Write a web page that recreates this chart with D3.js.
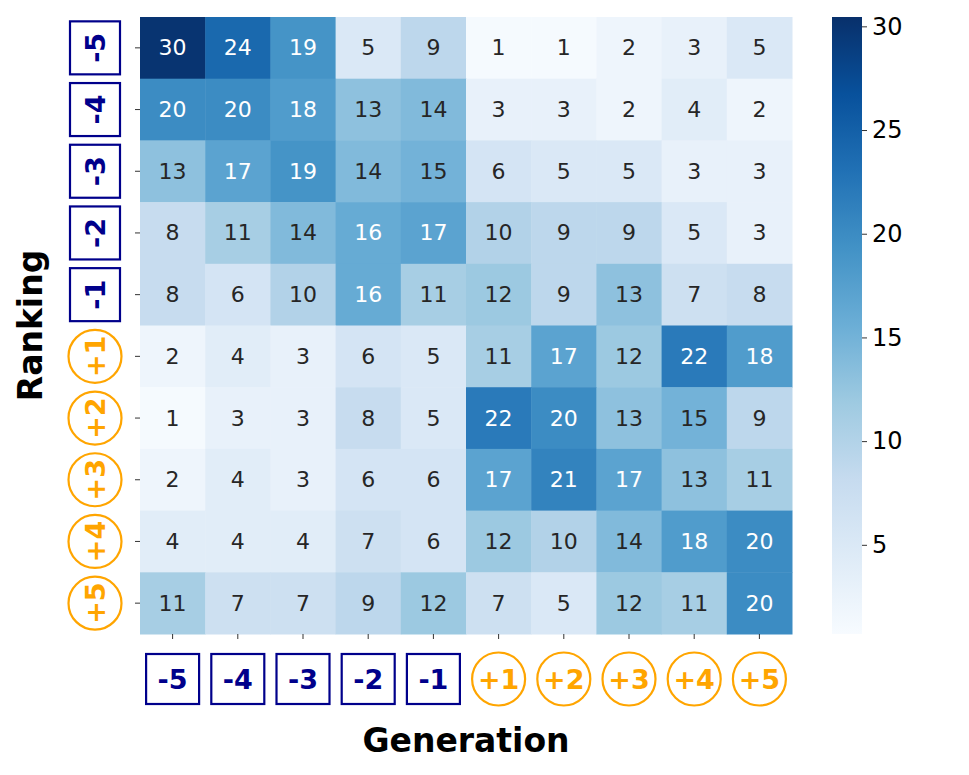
<!DOCTYPE html>
<html>
<head>
<meta charset="utf-8">
<script src="https://cdn.jsdelivr.net/npm/d3@7"></script>
<style>
  body { margin: 0; background: #fff; }
  svg { font-family: "DejaVu Sans", sans-serif; }
</style>
</head>
<body>
<div id="chart"></div>
<script>
// rows = Ranking, columns = Generation
const rankings = ['-5', '-4', '-3', '-2', '-1', '+1', '+2', '+3', '+4', '+5']
const generations = ['-5', '-4', '-3', '-2', '-1', '+1', '+2', '+3', '+4', '+5']
const counts = [
    [30, 24, 19, 5, 9, 1, 1, 2, 3, 5],
    [20, 20, 18, 13, 14, 3, 3, 2, 4, 2],
    [13, 17, 19, 14, 15, 6, 5, 5, 3, 3],
    [8, 11, 14, 16, 17, 10, 9, 9, 5, 3],
    [8, 6, 10, 16, 11, 12, 9, 13, 7, 8],
    [2, 4, 3, 6, 5, 11, 17, 12, 22, 18],
    [1, 3, 3, 8, 5, 22, 20, 13, 15, 9],
    [2, 4, 3, 6, 6, 17, 21, 17, 13, 11],
    [4, 4, 4, 7, 6, 12, 10, 14, 18, 20],
    [11, 7, 7, 9, 12, 7, 5, 12, 11, 20]
]
const colorTicks = [5, 10, 15, 20, 25, 30]
const colorDomain = [0.7, 30.45]

const width = 969, height = 775
const hm = { left: 140, top: 17, right: 792, bottom: 634 }
const cb = { left: 832, right: 862 }

const svg = d3.select('#chart').append('svg')
    .attr('width', width)
    .attr('height', height)

const x = d3.scaleBand().domain(generations).range([hm.left, hm.right])
const y = d3.scaleBand().domain(rankings).range([hm.top, hm.bottom])

// matplotlib-style Blues: linear between the 9 colorbrewer stops
const blues = d3.schemeBlues[9]
const stops = blues.map((c, i) => colorDomain[0] + i * (colorDomain[1] - colorDomain[0]) / 8)
const color = d3.scaleLinear().domain(stops).range(blues).interpolate(d3.interpolateRgb).clamp(true)

function lum(c) {
    const rgb = d3.rgb(c)
    const f = v => { v /= 255; return v <= 0.03928 ? v / 12.92 : Math.pow((v + 0.055) / 1.055, 2.4) }
    return 0.2126 * f(rgb.r) + 0.7152 * f(rgb.g) + 0.0722 * f(rgb.b)
}

const cells = []
counts.forEach((row, i) => row.forEach((v, j) => cells.push({ r: rankings[i], g: generations[j], v: v })))

svg.selectAll('.cell')
    .data(cells)
    .enter()
    .append('rect')
    .attr('class', 'cell')
    .attr('x', d => x(d.g))
    .attr('y', d => y(d.r))
    .attr('width', x.bandwidth() + 0.5)
    .attr('height', y.bandwidth() + 0.5)
    .style('fill', d => color(d.v))

svg.selectAll('.annot')
    .data(cells)
    .enter()
    .append('text')
    .attr('class', 'annot')
    .attr('x', d => x(d.g) + x.bandwidth() / 2)
    .attr('y', d => y(d.r) + y.bandwidth() / 2)
    .attr('text-anchor', 'middle')
    .attr('dominant-baseline', 'central')
    .style('font-size', '22px')
    .style('fill', d => lum(color(d.v)) < 0.39 ? '#ffffff' : '#262626')
    .text(d => d.v)

// tick marks
svg.selectAll('.ytick')
    .data(rankings)
    .enter()
    .append('line')
    .attr('x1', hm.left - 5).attr('x2', hm.left)
    .attr('y1', d => y(d) + y.bandwidth() / 2)
    .attr('y2', d => y(d) + y.bandwidth() / 2)
    .style('stroke', '#333').style('stroke-width', 1)

svg.selectAll('.xtick')
    .data(generations)
    .enter()
    .append('line')
    .attr('y1', hm.bottom).attr('y2', hm.bottom + 5)
    .attr('x1', d => x(d) + x.bandwidth() / 2)
    .attr('x2', d => x(d) + x.bandwidth() / 2)
    .style('stroke', '#333').style('stroke-width', 1)

// decorated tick labels: squares for negative, circles for positive
function badge(g, label) {
    const neg = label.startsWith('-')
    const c = neg ? '#00008B' : '#FFA500'
    if (neg) {
        g.append('rect')
            .attr('x', -26.5).attr('y', -25)
            .attr('width', 53).attr('height', 50)
            .style('fill', '#fff').style('stroke', c).style('stroke-width', 2.2)
    } else {
        g.append('circle')
            .attr('r', 26.5)
            .style('fill', '#fff').style('stroke', c).style('stroke-width', 2.2)
    }
    g.append('text')
        .attr('text-anchor', 'middle')
        .attr('dominant-baseline', 'central')
        .style('font-size', '27px')
        .style('font-weight', 'bold')
        .style('fill', c)
        .text(label)
}

svg.selectAll('.xlab')
    .data(generations)
    .enter()
    .append('g')
    .attr('class', 'xlab')
    .attr('transform', d => `translate(${x(d) + x.bandwidth() / 2}, 679)`)
    .each(function (d) { badge(d3.select(this), d) })

svg.selectAll('.ylab')
    .data(rankings)
    .enter()
    .append('g')
    .attr('class', 'ylab')
    .attr('transform', d => `translate(95, ${y(d) + y.bandwidth() / 2}) rotate(-90)`)
    .each(function (d) { badge(d3.select(this), d) })

// axis titles
svg.append('text')
    .attr('x', (hm.left + hm.right) / 2)
    .attr('y', 752)
    .attr('text-anchor', 'middle')
    .style('font-size', '33px').style('font-weight', 'bold')
    .text('Generation')

svg.append('text')
    .attr('transform', `translate(42, ${(hm.top + hm.bottom) / 2}) rotate(-90)`)
    .attr('text-anchor', 'middle')
    .style('font-size', '33px').style('font-weight', 'bold')
    .text('Ranking')

// colorbar
const cy = d3.scaleLinear().domain(colorDomain).range([hm.bottom, hm.top])
const defs = svg.append('defs')
const grad = defs.append('linearGradient')
    .attr('id', 'cbgrad')
    .attr('x1', 0).attr('y1', 1).attr('x2', 0).attr('y2', 0)
blues.forEach((c, i) => {
    grad.append('stop').attr('offset', i / 8).attr('stop-color', c)
})
svg.append('rect')
    .attr('x', cb.left).attr('y', hm.top)
    .attr('width', cb.right - cb.left)
    .attr('height', hm.bottom - hm.top)
    .style('fill', 'url(#cbgrad)')

const cbAxis = d3.axisRight(cy).tickValues(colorTicks).tickSize(5).tickPadding(5)
const cbg = svg.append('g')
    .attr('transform', `translate(${cb.right}, 0)`)
    .call(cbAxis)
cbg.select('.domain').remove()
cbg.selectAll('text')
    .style('font-size', '24px')
    .style('font-family', '"DejaVu Sans", sans-serif')
    .style('fill', '#000')
cbg.selectAll('line').style('stroke', '#333')
</script>
</body>
</html>
